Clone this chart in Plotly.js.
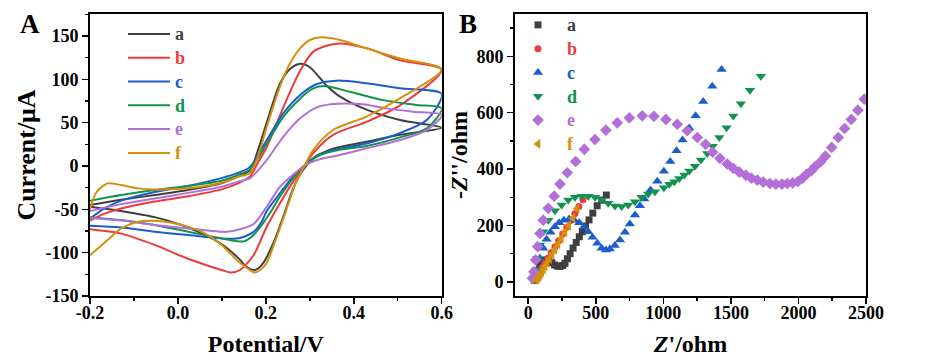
<!DOCTYPE html>
<html>
<head>
<meta charset="utf-8">
<script src="https://cdn.plot.ly/plotly-3.0.1.min.js"></script>
<style>
html,body{margin:0;padding:0;background:#fff;}
#chart{width:926px;height:361px;}
</style>
</head>
<body>
<div id="chart"></div>
<script>
// ---------- Panel A: cyclic voltammograms (potential V, current µA) ----------
const seriesNames = ["a", "b", "c", "d", "e", "f"];
const seriesColors = ["#3f3f3f", "#ee3a3a", "#1c5ccf", "#12924f", "#b36fd8", "#d4900c"];

const cvA_V = [-0.2,-0.129,-0.053,0.023,0.099,0.137,0.164,0.18,0.202,0.232,0.255,0.278,0.3,0.338,0.369,0.429,0.505,0.6,
               0.505,0.429,0.353,0.32,0.308,0.281,0.262,0.24,0.217,0.194,0.175,0.155,0.141,0.099,0.023,-0.053,-0.129,-0.2];
const cvA_I = [-45,-39,-33.5,-27.7,-20,-12,-5,15,50,95,112,118,114,93,80,65,53,44,
               36,28,20,13,9,-7,-26,-58,-89,-112,-120,-116,-108,-90,-71,-59,-52,-47];

const cvB_V = [-0.2,-0.167,-0.129,-0.053,0.023,0.099,0.137,0.164,0.18,0.202,0.24,0.278,0.308,0.34,0.369,0.429,0.505,0.6,
               0.505,0.429,0.353,0.308,0.281,0.262,0.232,0.202,0.172,0.141,0.121,0.099,0.023,-0.053,-0.129,-0.2];
const cvB_I = [-63,-55,-49,-41,-35,-27,-20,-12,2,22,68,110,132,139,141.5,136,122,111,
               70,51,36,15,-5,-18,-43,-70,-103,-120,-123,-120,-107,-91,-78,-73];

const cvC_V = [-0.2,-0.167,-0.129,-0.053,0.023,0.099,0.137,0.164,0.202,0.24,0.278,0.316,0.361,0.429,0.505,0.6,
               0.566,0.505,0.429,0.36,0.323,0.293,0.262,0.232,0.202,0.19,0.172,0.141,0.12,0.099,0.023,-0.053,-0.129,-0.2];
const cvC_I = [-61,-49,-40,-30,-23,-14,-8,-1,30,61,82,94.6,98.5,95.5,89.6,83,
               53,38,26,19,13,3,-12,-31.5,-52,-65,-76,-83,-84,-83.5,-79.7,-75.8,-71,-69];

const cvD_V = [-0.2,-0.129,-0.053,0.023,0.099,0.137,0.164,0.202,0.24,0.278,0.308,0.334,0.391,0.467,0.543,0.6,
               0.566,0.505,0.429,0.36,0.323,0.293,0.262,0.232,0.202,0.172,0.15,0.099,0.023,-0.053,-0.129,-0.2];
const cvD_I = [-40,-33.5,-27.7,-23,-17,-10.4,-4,26,57,78,89.6,92.3,85.7,76,70.4,66.5,
               43.5,33,23,18,12.7,3,-14,-35.4,-60,-79.6,-87,-83.5,-75.8,-68,-62.4,-59];

const cvE_V = [-0.2,-0.129,-0.053,0.023,0.099,0.137,0.164,0.202,0.24,0.278,0.316,0.353,0.414,0.475,0.535,0.6,
               0.566,0.505,0.429,0.353,0.331,0.293,0.262,0.232,0.202,0.172,0.141,0.11,0.099,0.023,-0.053,-0.129,-0.2];
const cvE_I = [-52,-44,-37.4,-31,-24,-18,-14,7,34,55,67.7,71.5,71.5,66.5,62.6,58.8,
               41.5,30,20.4,11,9,2,-10,-24,-47,-67,-73,-76,-75.8,-72,-68,-63,-60];

const cvF_V = [-0.2,-0.185,-0.16,-0.129,-0.091,-0.053,0.023,0.099,0.137,0.164,0.18,0.202,0.232,0.255,0.278,0.3,0.327,0.369,0.429,0.505,0.6,
               0.505,0.429,0.353,0.308,0.285,0.266,0.244,0.221,0.199,0.175,0.155,0.137,0.099,0.061,0.023,-0.015,-0.053,-0.091,-0.129,-0.16,-0.2];
const cvF_I = [-50,-30,-20,-22,-25.8,-27,-25.8,-19.3,-12.4,-8,8,45,91.6,118.5,135.8,145.4,148.5,145.4,135.8,124,111.5,
               78,57,41.5,18.5,-2.7,-22,-54.6,-87,-114,-123,-117,-110,-91,-77.7,-70,-65.4,-63.1,-64.3,-72,-85.4,-103];

// ---------- Panel B: Nyquist plots (Z' ohm, -Z'' ohm) ----------
const eisA_Zre = [45,55,68,85,105,128,152,175,195,215,235,255,272,290,310,332,355,378,400,424,450,478,510,545,578];
const eisA_Zim = [6,22,40,58,72,78,76,68,60,56,55,58,66,82,100,120,140,160,178,198,220,244,270,290,308];

const eisB_Zre = [48,58,70,85,102,122,145,170,197,225,255,285,315,345,375,405];
const eisB_Zim = [6,14,24,36,50,66,84,103,124,146,170,194,218,242,267,291];

const eisC_Zre = [42,62,86,111,136,165,197,229,264,303,340,377,412,444,476,511,543,575,604,641,679,716,752,790,827,859,905,955,1004,1051,1098,1142,1192,1239,1295,1362,1431];
const eisC_Zim = [13,42,84,119,151,176,196,210,219,223,219,210,196,178,158,137,119,113,117,129,149,176,205,237,270,294,326,357,392,427,465,503,546,589,640,694,753];

const eisD_Zre = [50,55,67,87,111,148,198,247,296,346,395,444,494,543,592,642,691,740,790,839,888,938,1004,1044,1081,1118,1155,1192,1234,1278,1325,1365,1414,1468,1518,1574,1641,1722];
const eisD_Zim = [7,42,84,131,178,219,252,273,290,300,304,304,300,290,279,269,267,273,284,300,312,320,334,346,355,367,379,393,410,432,455,481,512,547,588,632,680,729];

const eisE_Zre = [30,42,55,70,87,111,148,192,235,289,351,415,494,575,659,748,844,930,1019,1103,1177,1251,1313,1365,1419,1473,1517,1562,1611,1651,1695,1739,1789,1833,1878,1917,1957,1996,2031,2061,2095,2122,2164,2199,2246,2295,2342,2391,2440,2487];
const eisE_Zim = [13,36,78,125,172,219,261,304,347,387,427,470,505,538,564,582,589,587,576,559,536,512,488,460,438,418,403,389,378,368,361,354,349,347,347,349,351,356,368,382,394,408,426,446,477,512,544,576,609,648];

const eisF_Zre = [60,66,73,81,90,100,112,125,140,157,176,197,220,245,272,300,330,362];
const eisF_Zim = [8,11,15,20,27,35,45,56,68,82,98,115,134,155,177,200,226,260];

// tick labels
const cvXTicks = [-0.2, 0, 0.2, 0.4, 0.6];
const cvXTickText = ["-0.2", "0.0", "0.2", "0.4", "0.6"];
const cvYTicks = [-150, -100, -50, 0, 50, 100, 150];
const eisXTicks = [0, 500, 1000, 1500, 2000, 2500];
const eisYTicks = [0, 200, 400, 600, 800];

const markerSymbols = ["square", "circle", "triangle-up", "triangle-down", "diamond", "triangle-left"];
const markerSizes = [7, 7, 9, 9, 9, 9];

// ---------- build traces ----------
const cvV = [cvA_V, cvB_V, cvC_V, cvD_V, cvE_V, cvF_V];
const cvI = [cvA_I, cvB_I, cvC_I, cvD_I, cvE_I, cvF_I];
const eisX = [eisA_Zre, eisB_Zre, eisC_Zre, eisD_Zre, eisE_Zre, eisF_Zre];
const eisY = [eisA_Zim, eisB_Zim, eisC_Zim, eisD_Zim, eisE_Zim, eisF_Zim];

const FONT = "Liberation Serif, Times New Roman, serif";
const b = s => "<b>" + s + "</b>";
const legName = (n, c) => '<b><span style="color:' + c + ';font-size:18px">' + n + '</span></b>';
const traces = [];
seriesNames.forEach((n, i) => {
  traces.push({
    x: cvV[i], y: cvI[i], type: "scatter", mode: "lines",
    xaxis: "x", yaxis: "y",
    line: {color: seriesColors[i], width: 2, shape: "spline", smoothing: 0.8},
    name: legName(n, seriesColors[i]),
    legend: "legend", hoverinfo: "skip"
  });
});
seriesNames.forEach((n, i) => {
  traces.push({
    x: eisX[i], y: eisY[i], type: "scatter", mode: "markers",
    xaxis: "x2", yaxis: "y2",
    marker: {color: seriesColors[i], symbol: markerSymbols[i], size: markerSizes[i], line: {width: 0}},
    name: legName(n, seriesColors[i]),
    legend: "legend2", hoverinfo: "skip"
  });
});

const W = 926, H = 361, T = 14, B = 65;
const px2x = p => p / W;
const py2y = p => (H - B - p) / (H - T - B);

const tickFont = {family: FONT, size: 18, color: "#000", weight: 700};
const axisCommon = {
  showline: true, linecolor: "#000", linewidth: 2, mirror: true,
  ticks: "outside", ticklen: 6, tickwidth: 1.5, tickcolor: "#000",
  showgrid: false, zeroline: false, tickfont: tickFont, fixedrange: true
};
const minorCommon = {ticks: "outside", ticklen: 3, tickwidth: 1.5, tickcolor: "#000"};

const layout = {
  width: W, height: H,
  margin: {l: 0, r: 0, t: T, b: B, pad: 0},
  paper_bgcolor: "#fff", plot_bgcolor: "#fff",
  showlegend: true,
  xaxis: Object.assign({}, axisCommon, {
    domain: [px2x(90), px2x(441.7)], range: [-0.2, 0.6],
    tickvals: cvXTicks, ticktext: cvXTickText.map(b), ticklabelstandoff: -7,
    minor: Object.assign({tickvals: [-0.1, 0.1, 0.3, 0.5]}, minorCommon),
    title: {text: b("Potential/V"), font: {family: FONT, size: 24, color: "#000", weight: 700}, standoff: 14}, anchor: "y"
  }),
  yaxis: Object.assign({}, axisCommon, {
    domain: [0, 1], range: [-150, 175.4],
    tickvals: cvYTicks, ticktext: cvYTicks.map(v => b(String(v))),
    minor: Object.assign({dtick: 25, tick0: 0}, minorCommon),
    title: {text: b("Current/μA"), font: {family: FONT, size: 26, color: "#000", weight: 700}, standoff: 2}, anchor: "x"
  }),
  xaxis2: Object.assign({}, axisCommon, {
    domain: [px2x(515), px2x(866)], range: [-98, 2500],
    tickvals: eisXTicks, ticktext: eisXTicks.map(v => b(String(v))), ticklabelstandoff: -7,
    minor: Object.assign({dtick: 250, tick0: 0}, minorCommon),
    title: {text: b("<i>Z</i>'/ohm"), font: {family: FONT, size: 24, color: "#000", weight: 700}, standoff: 14}, anchor: "y2"
  }),
  yaxis2: Object.assign({}, axisCommon, {
    domain: [0, 1], range: [-50, 950],
    tickvals: eisYTicks, ticktext: eisYTicks.map(v => b(String(v))),
    minor: Object.assign({dtick: 100, tick0: 0}, minorCommon),
    title: {text: b("-<i>Z</i>''/ohm"), font: {family: FONT, size: 24, color: "#000", weight: 700}, standoff: 2}, anchor: "x2"
  }),
  legend: {
    x: px2x(123), y: py2y(17), xanchor: "left", yanchor: "top",
    bgcolor: "rgba(0,0,0,0)", borderwidth: 0,
    font: {family: FONT, size: 16, weight: 700},
    itemwidth: 42, traceorder: "normal"
  },
  legend2: {
    x: px2x(509), y: py2y(8), xanchor: "left", yanchor: "top",
    bgcolor: "rgba(0,0,0,0)", borderwidth: 0,
    font: {family: FONT, size: 16, weight: 700},
    itemwidth: 48, traceorder: "normal"
  },
  annotations: [
    {text: b("A"), x: px2x(30), y: py2y(24), xref: "paper", yref: "paper", showarrow: false,
     font: {family: FONT, size: 27, color: "#000", weight: 700}, xanchor: "center", yanchor: "middle"},
    {text: b("B"), x: px2x(468), y: py2y(24), xref: "paper", yref: "paper", showarrow: false,
     font: {family: FONT, size: 27, color: "#000", weight: 700}, xanchor: "center", yanchor: "middle"}
  ]
};

Plotly.newPlot("chart", traces, layout, {staticPlot: true, displayModeBar: false});
</script>
</body>
</html>
